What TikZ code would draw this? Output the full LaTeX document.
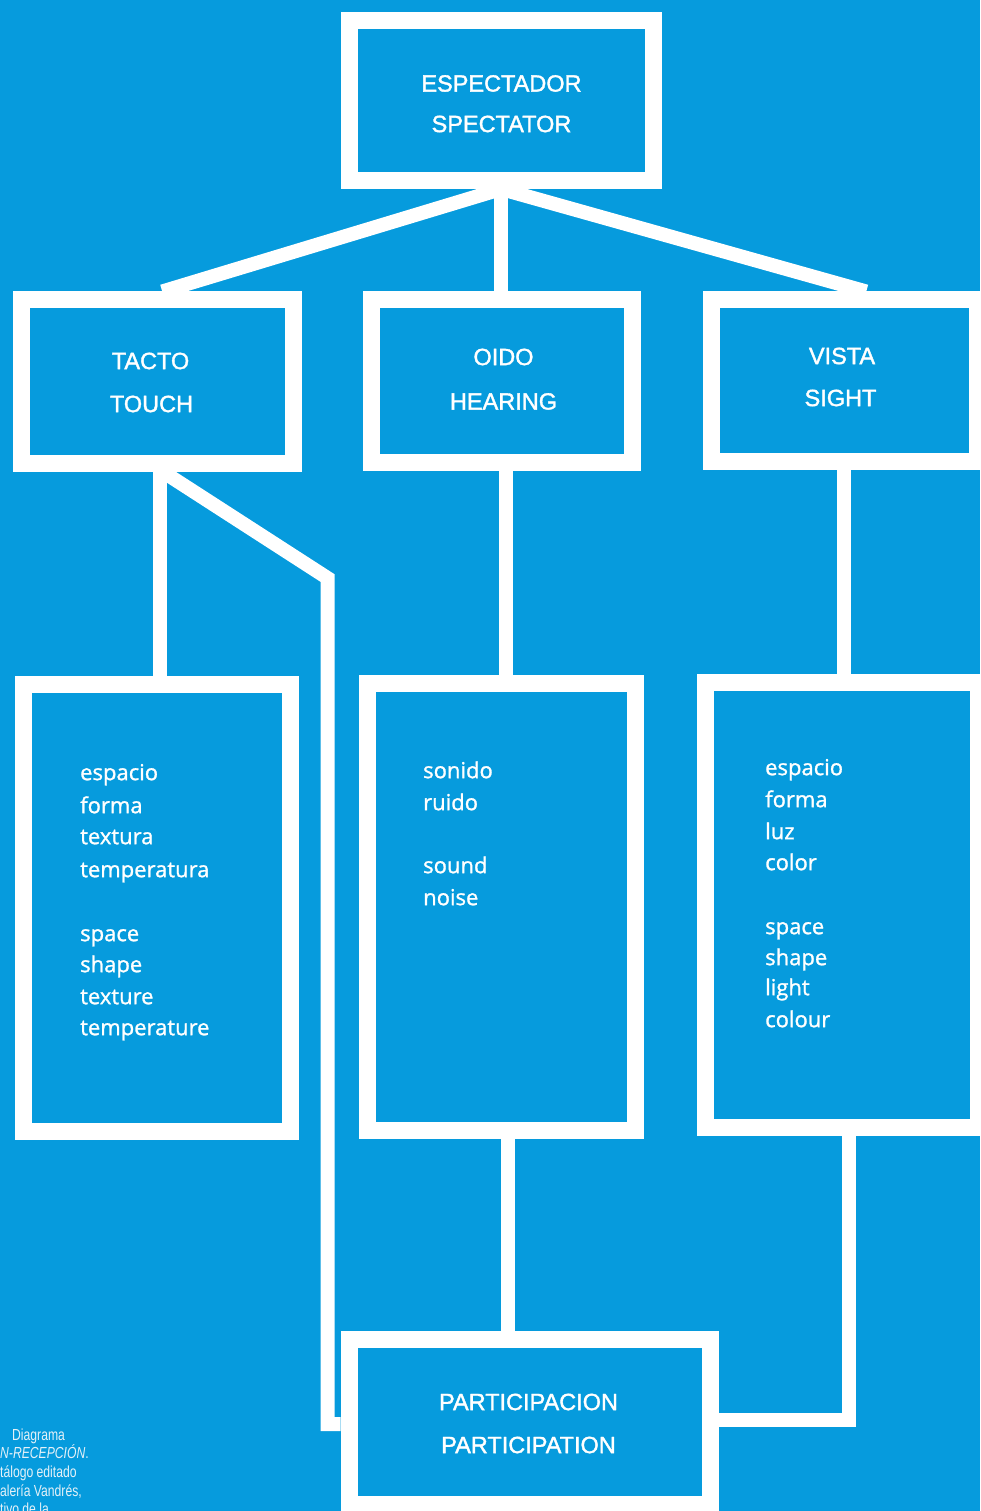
\documentclass[tikz,border=0pt]{standalone}
\usepackage{fontspec}
\newfontfamily\labfont[FakeBold=1.5]{Liberation Sans}
\newfontfamily\listfont[FakeBold=1.2]{Open Sans}
\newfontfamily\capfont[FakeStretch=0.76]{Liberation Sans}
\definecolor{bgblue}{RGB}{6,155,221}
\definecolor{capcol}{RGB}{228,241,248}
\tikzset{
  framebox/.style={draw=white, line width=17pt, rectangle, inner sep=0pt},
  conn/.style={draw=white, line width=14pt, line join=miter},
  lab/.style={text=white, inner sep=0pt, anchor=center, font=\labfont\fontsize{23.5}{28}\selectfont},
  item/.style={text=white, inner sep=0pt, anchor=mid west, font=\listfont\fontsize{22}{26}\selectfont},
  captxt/.style={text=capcol, inner sep=0pt, anchor=base west, font=\capfont\fontsize{16}{18}\selectfont}
}
\begin{document}
\begin{tikzpicture}[x=1pt,y=-1pt]
\fill[bgblue] (0,0) rectangle (980,1511);
\useasboundingbox (0,0) rectangle (980,1511);
\clip (0,0) rectangle (980,1511);

% boxes
\node[framebox, minimum width=304.5pt, minimum height=159.5pt] (esp) at (501.25,100.75) {};
\node[framebox, minimum width=272.5pt, minimum height=163.5pt] (tacto) at (157.25,381.75) {};
\node[framebox, minimum width=261.5pt, minimum height=162.5pt] (oido) at (501.75,381.25) {};
\node[framebox, minimum width=265.5pt, minimum height=161pt] (vista) at (844.25,380.5) {};
\node[framebox, minimum width=267pt, minimum height=447pt] (tl) at (156.5,907.5) {};
\node[framebox, minimum width=268pt, minimum height=447pt] (ml) at (501,906.5) {};
\node[framebox, minimum width=273pt, minimum height=445pt] (rl) at (841.5,904.5) {};
\node[framebox, minimum width=361pt, minimum height=165pt] (part) at (529.5,1421.5) {};

% connectors
\draw[conn] (esp.south) -- ([xshift=5pt]tacto.north);
\draw[conn] (esp.south) -- (esp.south |- oido.north);
\draw[conn] (esp.south) -- ([xshift=22pt]vista.north);

\coordinate (k1) at (327.5,578);
\coordinate (k2) at (327.5,1424);
\coordinate (k3) at (848.5,1420);
\draw[conn] ([xshift=3pt]tacto.south) -- ([xshift=3pt]tacto.south |- tl.north);
\draw[conn] ([xshift=6pt]tacto.south) -- (k1) -- (k2) -- (k2 -| part.west);
\draw[conn] ([xshift=4pt]oido.south) -- ([xshift=4pt]oido.south |- ml.north);
\draw[conn] (vista.south) -- (vista.south |- rl.north);
\draw[conn] ([xshift=7pt]ml.south) -- ([xshift=7pt]ml.south |- part.north);
\draw[conn] ([xshift=7pt]rl.south) -- (k3) -- (k3 -| part.east);

% labels
\node[lab] (espa) at (501.5,83.5) {ESPECTADOR};
\node[lab] (espb) at (501.5,124) {SPECTATOR};
\node[lab] (taca) at (150.5,361) {TACTO};
\node[lab] (tacb) at (151.5,404) {TOUCH};
\node[lab] (oida) at (503.5,357) {OIDO};
\node[lab] (oidb) at (503.5,401.5) {HEARING};
\node[lab] (visa) at (842,356) {VISTA};
\node[lab] (visb) at (840.5,398) {SIGHT};
\node[lab] (para) at (528.5,1402) {PARTICIPACION};
\node[lab] (parb) at (528.5,1445) {PARTICIPATION};

% lists
\foreach \t/\yy [count=\i] in {espacio/778, forma/811, textura/842, temperatura/875, space/939, shape/970, texture/1002, temperature/1033}
  \node[item] (tli\i) at (80,\yy) {\t};
\foreach \t/\yy [count=\i] in {sonido/776, ruido/808, sound/871, noise/903}
  \node[item] (mli\i) at (423,\yy) {\t};
\foreach \t/\yy [count=\i] in {espacio/773, forma/805, luz/837, color/868, space/932, shape/963, light/993, colour/1025}
  \node[item] (rli\i) at (765,\yy) {\t};

% caption fragments
\node[captxt] (c1) at (12,1440) {Diagrama};
\node[captxt] (c2) at (0,1458) {{\itshape N-RECEPCIÓN}.};
\node[captxt] (c3) at (0,1477) {tálogo editado};
\node[captxt] (c4) at (0,1496) {alería Vandrés,};
\node[captxt] (c5) at (0,1514) {tivo de la};
\end{tikzpicture}
\end{document}
